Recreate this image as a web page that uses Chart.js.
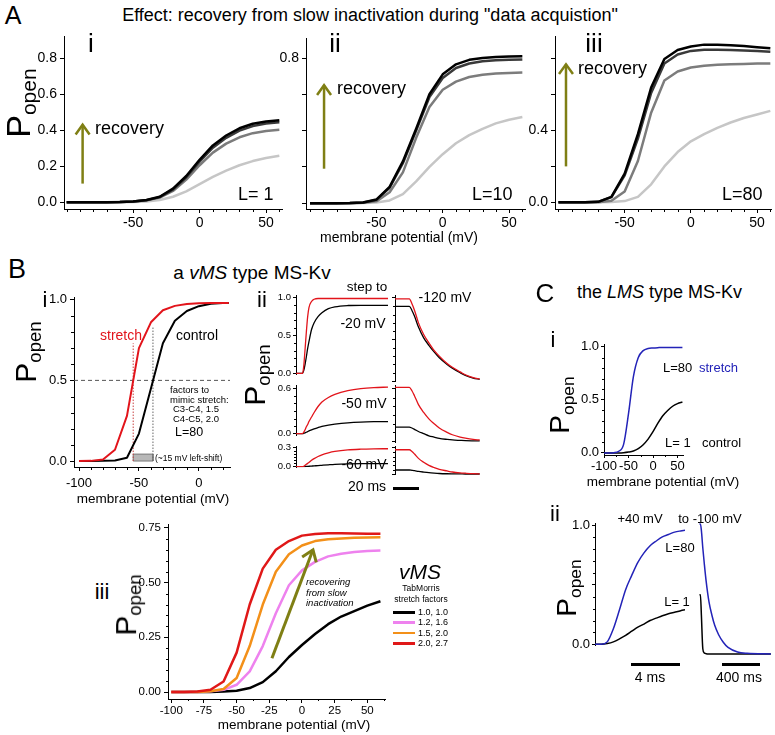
<!DOCTYPE html>
<html>
<head>
<meta charset="utf-8">
<script src="https://cdn.jsdelivr.net/npm/chart.js@4.4.1/dist/chart.umd.min.js"></script>
<style>
body { margin: 0; background: #fff; }
#fig { position: relative; width: 775px; height: 735px; overflow: hidden; font-family: "Liberation Sans", Arial, sans-serif; color: #000; }
#fig canvas { position: absolute; }
.t { position: absolute; white-space: nowrap; line-height: 1; transform: translate(-50%, -50%); }
.t sub { font-size: 0.62em; vertical-align: -0.28em; }
.bar { position: absolute; }
</style>
</head>
<body>
<div id="fig"></div>
<script>
// ---- panel A : recovery from slow inactivation (L = 1, 10, 80)
var mvA = [-100,-90,-80,-70,-60,-50,-40,-30,-20,-10,0,10,20,30,40,50,60];
var aiBlack = [0,0,0,0,0.001,0.004,0.012,0.03,0.075,0.145,0.235,0.315,0.37,0.41,0.435,0.448,0.455];
var aiDark  = [0,0,0,0,0.001,0.004,0.011,0.028,0.07,0.138,0.225,0.302,0.357,0.397,0.422,0.436,0.444];
var aiMid   = [0,0,0,0,0.001,0.003,0.01,0.025,0.062,0.125,0.205,0.275,0.325,0.36,0.383,0.395,0.402];
var aiLight = [0,0,0,0,0,0.001,0.004,0.012,0.03,0.06,0.1,0.14,0.175,0.205,0.228,0.245,0.258];
var aiiBlack = [0,0,0,0.001,0.004,0.02,0.09,0.23,0.41,0.6,0.71,0.765,0.79,0.8,0.805,0.808,0.81];
var aiiDark  = [0,0,0,0.001,0.004,0.018,0.085,0.22,0.4,0.585,0.69,0.745,0.77,0.782,0.788,0.79,0.792];
var aiiMid   = [0,0,0,0,0.002,0.01,0.06,0.17,0.36,0.53,0.625,0.67,0.695,0.708,0.715,0.718,0.72];
var aiiLight = [0,0,0,0,0.001,0.004,0.015,0.05,0.12,0.2,0.27,0.33,0.375,0.41,0.44,0.46,0.475];
var aiiiBlack = [0,0,0,0.002,0.03,0.16,0.38,0.64,0.8,0.85,0.87,0.88,0.88,0.877,0.872,0.866,0.86];
var aiiiDark  = [0,0,0,0.002,0.028,0.15,0.355,0.61,0.775,0.825,0.845,0.852,0.852,0.85,0.847,0.844,0.84];
var aiiiMid   = [0,0,0,0,0.008,0.06,0.23,0.5,0.68,0.73,0.752,0.762,0.767,0.77,0.772,0.774,0.775];
var aiiiLight = [0,0,0,0,0.001,0.006,0.03,0.1,0.2,0.28,0.34,0.38,0.415,0.445,0.47,0.49,0.51];

// ---- panel B i : stretch vs control (L=80)
var mvBi = [-100,-90,-80,-70,-60,-50,-40,-30,-20,-10,0,10,20,25];
var biStretch = [0,0.001,0.01,0.07,0.28,0.7,0.86,0.935,0.962,0.973,0.978,0.98,0.98,0.98];
var biControl = [0,0,0.001,0.003,0.02,0.17,0.45,0.73,0.87,0.93,0.96,0.975,0.98,0.98];
var biHalfX = [-104.2, 26];
var biHalfY = 0.5;
var biShiftX = [-54.8, -38.3];   // V1/2 of stretch and control
var biShiftTop = [0.73, 0.83];   // top of the dotted markers
var biShiftBar = 0.043;

// ---- panel B ii : step to -20/-50/-60 mV, then to -120 mV (ms)
var tStep = [0,5,6,7,8,9,10,12,14,17,20,25,30,40,50,60,71];
var step20Red   = [0,0,0.1,0.32,0.55,0.75,0.87,0.95,0.98,0.99,0.99,0.99,0.99,0.99,0.99,0.99,0.99];
var step20Black = [0,0,0.04,0.12,0.22,0.33,0.42,0.58,0.67,0.75,0.8,0.855,0.88,0.897,0.9,0.9,0.9];
var step50Red   = [0,0,0.02,0.05,0.09,0.12,0.16,0.22,0.28,0.36,0.42,0.48,0.52,0.57,0.598,0.612,0.618];
var step50Black = [0,0,0.003,0.01,0.018,0.026,0.035,0.05,0.063,0.08,0.095,0.112,0.125,0.143,0.153,0.158,0.16];
var step60Red   = [0,0,0.005,0.02,0.035,0.05,0.065,0.1,0.125,0.158,0.185,0.215,0.237,0.262,0.273,0.278,0.28];
var step60Black = [0,0,0,0.001,0.002,0.003,0.005,0.008,0.011,0.015,0.02,0.028,0.035,0.042,0.045,0.046,0.046];
var tTail = [0,11,13,15,18,22,26,30,34,40,44,50,54,60,65];
var tail20Red   = [0.99,0.99,0.93,0.85,0.7,0.56,0.46,0.37,0.3,0.21,0.165,0.11,0.075,0.04,0.025];
var tail20Black = [0.9,0.9,0.85,0.78,0.65,0.52,0.43,0.35,0.28,0.2,0.155,0.1,0.068,0.035,0.02];
var tail50Red   = [0.618,0.618,0.58,0.52,0.42,0.33,0.255,0.2,0.15,0.1,0.072,0.045,0.032,0.018,0.012];
var tail50Black = [0.16,0.16,0.15,0.135,0.11,0.085,0.06,0.045,0.03,0.018,0.012,0.007,0.004,0.002,0.001];
var tail60Red   = [0.28,0.28,0.26,0.23,0.18,0.135,0.1,0.075,0.054,0.035,0.023,0.013,0.009,0.004,0.002];
var tail60Black = [0.046,0.046,0.042,0.038,0.03,0.022,0.015,0.01,0.006,0.003,0.002,0.001,0,0,0];

// ---- panel B iii : TabMorris stretch factors
var biii10 = [0,0,0,0,0.002,0.006,0.018,0.045,0.095,0.16,0.215,0.265,0.31,0.345,0.37,0.395,0.415];
var biii16 = [0,0,0,0.003,0.01,0.033,0.094,0.21,0.36,0.488,0.556,0.595,0.62,0.632,0.64,0.645,0.647];
var biii20 = [0,0,0,0.003,0.014,0.064,0.21,0.4,0.55,0.63,0.67,0.69,0.698,0.702,0.705,0.706,0.707];
var biii27 = [0,0,0.002,0.01,0.048,0.18,0.4,0.564,0.65,0.69,0.715,0.722,0.726,0.726,0.725,0.724,0.723];
var biiiFactors = ['1.0, 1.0', '1.2, 1.6', '1.5, 2.0', '2.0, 2.7'];

// ---- panel C : LMS type
var ciStretch = [0,0,0.002,0.015,0.08,0.37,0.72,0.9,0.965,0.985,0.99,0.993,0.995,0.995,0.995,0.995,0.995];
var ciControl = [0,0,0,0,0.002,0.008,0.018,0.04,0.077,0.13,0.2,0.28,0.35,0.4,0.44,0.465,0.48];
var tOn = [0,0.5,1,1.5,2,2.5,3,3.5,4,4.5,5,5.5,6,6.5,7,7.35];
var ciiOn80 = [0,0,0.02,0.13,0.29,0.46,0.58,0.69,0.77,0.83,0.87,0.905,0.925,0.945,0.955,0.96];
var ciiOn1  = [0,0,0.006,0.02,0.045,0.075,0.11,0.145,0.17,0.2,0.22,0.24,0.257,0.27,0.283,0.29];
var tOff = [0,10,20,35,50,70,100,130,160,200,250,300,400,500,750];
var ciiOff80 = [1,1,0.95,0.815,0.7,0.56,0.4,0.3,0.22,0.15,0.09,0.05,0.015,0.005,0];
var ciiOff1  = [0.456,0.456,0.3,0.04,0.008,0.002,0,0,0,0,0,0,0,0,0];

// ---- ticks
var mvTicksA = [-50, 0, 50];
var mvLabelsA = ['-50', '0', '50'];
var mvMinorA = [-100,-90,-80,-70,-60,-40,-30,-20,-10,10,20,30,40,60];
var pTicksA = [0, 0.2, 0.4, 0.6, 0.8];
var pLabelsAi = ['0.0', '0.2', '0.4', '0.6', '0.8'];
var pLabelsAii = ['', '', '', '', '0.8'];
var pLabelsAiii = ['0.0', '', '0.4', '', ''];
var mvTicksBi = [-100, -50, 0];
var mvLabelsBi = ['-100', '-50', '0'];
var mvMinorBi = [-90,-80,-70,-60,-40,-30,-20,-10,10,20];
var pTicksHalf = [0, 0.5, 1];
var pLabelsHalf = ['0.0', '0.5', '1.0'];
var pMinorTenths = [0.1,0.2,0.3,0.4,0.6,0.7,0.8,0.9];
var pTicks06 = [0, 0.6];
var pLabels06 = ['0.0', '0.6'];
var pMinor06 = [0.1,0.2,0.3,0.4,0.5];
var pTicks03 = [0, 0.3];
var pLabels03 = ['0.0', '0.3'];
var pMinor03 = [0.05,0.1,0.15,0.2,0.25];
var mvTicksBiii = [-100,-75,-50,-25,0,25,50];
var mvLabelsBiii = ['-100','-75','-50','-25','0','25','50'];
var mvMinorBiii = [-87.5,-62.5,-37.5,-12.5,12.5,37.5,62.5];
var pTicksBiii = [0, 0.25, 0.5, 0.75];
var pLabelsBiii = ['0.00', '0.25', '0.50', '0.75'];
var pMinorBiii = [0.05,0.1,0.15,0.2,0.3,0.35,0.4,0.45,0.55,0.6,0.65,0.7];
var mvTicksC = [-100, -50, 0, 50];
var mvLabelsC = ['-100', '-50', '0', '50'];
var mvMinorC = [-75, -25, 25];
var pLabelsCii = ['0.0', '', '1.0'];

var RED = '#e2141b', BLUE = '#2323b8', OLIVE = '#7f7f14';
var fig = document.getElementById('fig');
Chart.defaults.font.family = '"Liberation Sans", Arial, sans-serif';
Chart.defaults.color = '#000';

function series(xs, ys, color, width, extra) {
  var d = {
    data: xs.map(function (x, i) { return { x: x, y: ys[i] }; }),
    borderColor: color, backgroundColor: color, borderWidth: width,
    pointRadius: 0, tension: 0, fill: false, borderJoinStyle: 'round'
  };
  return Object.assign(d, extra || {});
}

//short minor ticks, drawn with the chart's own scales
function minorPlugin(spec) {
  return {
    id: 'minorTicks',
    afterDraw: function (chart) {
      var ctx = chart.ctx;
      ctx.save();
      ctx.strokeStyle = '#000';
      ctx.lineWidth = 1;
      (spec.x || []).forEach(function (v) {
        var s = chart.scales.x, p = Math.round(s.getPixelForValue(v)) + 0.5;
        ctx.beginPath(); ctx.moveTo(p, s.top); ctx.lineTo(p, s.top + (spec.len || 3)); ctx.stroke();
      });
      (spec.y || []).forEach(function (v) {
        var s = chart.scales.y, p = Math.round(s.getPixelForValue(v)) + 0.5;
        ctx.beginPath(); ctx.moveTo(s.right, p); ctx.lineTo(s.right - (spec.len || 3), p); ctx.stroke();
      });
      ctx.restore();
    }
  };
}

function arrowPlugin(list) {
  return {
    id: 'arrows',
    afterDatasetsDraw: function (chart) {
      var ctx = chart.ctx, sx = chart.scales.x, sy = chart.scales.y;
      list.forEach(function (a) {
        var x0 = sx.getPixelForValue(a.from[0]), y0 = sy.getPixelForValue(a.from[1]);
        var x1 = sx.getPixelForValue(a.to[0]), y1 = sy.getPixelForValue(a.to[1]);
        var ang = Math.atan2(y1 - y0, x1 - x0), h = a.head;
        ctx.save();
        ctx.strokeStyle = a.color;
        ctx.lineWidth = a.width;
        ctx.beginPath(); ctx.moveTo(x0, y0); ctx.lineTo(x1, y1); ctx.stroke();
        ctx.beginPath();
        ctx.moveTo(x1 - h * Math.cos(ang - 0.62), y1 - h * Math.sin(ang - 0.62));
        ctx.lineTo(x1, y1);
        ctx.lineTo(x1 - h * Math.cos(ang + 0.62), y1 - h * Math.sin(ang + 0.62));
        ctx.stroke();
        ctx.restore();
      });
    }
  };
}

function axis(pos, range, ticks, labels, o) {
  o = o || {};
  return {
    type: 'linear', position: pos, min: range[0], max: range[1],
    display: o.show !== false,
    afterBuildTicks: function (ax) { ax.ticks = (ticks || []).map(function (v) { return { value: v }; }); },
    afterFit: function (ax) {
      var s = o.show === false ? 0 : o.size;   // hidden axes take no room
      if (pos === 'left') ax.width = s; else ax.height = s;
    },
    border: { display: true, color: '#000', width: 1 },
    grid: { drawOnChartArea: false, drawTicks: true, tickLength: o.tick || 4, color: '#000', lineWidth: 1 },
    ticks: {
      display: !!labels, autoSkip: false, maxRotation: 0, minRotation: 0,
      padding: o.pad == null ? 3 : o.pad, color: '#000', font: { size: o.font || 13 },
      callback: function (v, i) { return labels ? labels[i] : ''; }
    }
  };
}

// box = plot area (l,t,w,h) + gutters for the axes (gl left, gb bottom)
function plot(box, datasets, xAx, yAx, minor, arrows) {
  var pt = 8, pr = 10;
  var W = box.w + box.gl + pr, H = box.h + pt + box.gb;
  var c = document.createElement('canvas');
  c.width = W; c.height = H;
  c.style.left = (box.l - box.gl) + 'px';
  c.style.top = (box.t - pt) + 'px';
  c.style.width = W + 'px';
  c.style.height = H + 'px';
  fig.appendChild(c);
  return new Chart(c, {
    type: 'line',
    data: { datasets: datasets },
    options: {
      responsive: false, animation: false, events: [],
      layout: { padding: { top: pt, right: pr, left: 0, bottom: 0 } },
      plugins: { legend: { display: false }, tooltip: { enabled: false } },
      scales: { x: xAx, y: yAx }
    },
    plugins: [minorPlugin(minor || {}), arrowPlugin(arrows || [])]
  });
}

function txt(html, x, y, size, o) {
  o = o || {};
  var d = document.createElement('div');
  d.className = 't';
  d.innerHTML = html;
  d.style.left = x + 'px';
  d.style.top = y + 'px';
  d.style.fontSize = size + 'px';
  if (o.color) d.style.color = o.color;
  if (o.italic) d.style.fontStyle = 'italic';
  if (o.left) d.style.transform = 'translate(0, -50%)';
  if (o.rot) d.style.transform = 'translate(-50%, -50%) rotate(-90deg)';
  fig.appendChild(d);
}

function bar(x, y, w, h, color) {
  var d = document.createElement('div');
  d.className = 'bar';
  d.style.left = x + 'px'; d.style.top = y + 'px';
  d.style.width = w + 'px'; d.style.height = h + 'px';
  d.style.background = color || '#000';
  fig.appendChild(d);
}

function popen(x, y, size) { txt('P<sub>open</sub>', x, y, size, { rot: true }); }

// ================= A =================
var GREYS = ['#000000', '#3a3a3a', '#7c7c7c', '#c6c6c6'];
function aSets(b, d, m, l) {
  return [series(mvA, b, GREYS[0], 2.5), series(mvA, d, GREYS[1], 2.5),
          series(mvA, m, GREYS[2], 2.5), series(mvA, l, GREYS[3], 2.5)];
}
var aX = { size: 30, tick: 4, pad: 2, font: 14 };
var aY = { size: 40, tick: 4, pad: 3, font: 14 };
plot({ l: 64, t: 33, w: 218, h: 176, gl: 40, gb: 30 }, aSets(aiBlack, aiDark, aiMid, aiLight),
  axis('bottom', [-102, 62], mvTicksA, mvLabelsA, aX), axis('left', [-0.038, 0.92], pTicksA, pLabelsAi, aY),
  { x: mvMinorA }, [{ from: [-88, 0.103], to: [-88, 0.43], color: OLIVE, width: 2.5, head: 12 }]);
plot({ l: 306, t: 35, w: 219, h: 174, gl: 40, gb: 30 }, aSets(aiiBlack, aiiDark, aiiMid, aiiLight),
  axis('bottom', [-103, 62], mvTicksA, mvLabelsA, aX), axis('left', [-0.032, 0.908], pTicksA, pLabelsAii, aY),
  { x: mvMinorA }, [{ from: [-89.4, 0.19], to: [-89.4, 0.65], color: OLIVE, width: 2.5, head: 12 }]);
plot({ l: 555, t: 33, w: 216, h: 176, gl: 40, gb: 30 }, aSets(aiiiBlack, aiiiDark, aiiiMid, aiiiLight),
  axis('bottom', [-102.6, 60.5], mvTicksA, mvLabelsA, aX), axis('left', [-0.038, 0.926], pTicksA, pLabelsAiii, aY),
  { x: mvMinorA }, [{ from: [-94.3, 0.2], to: [-94.3, 0.77], color: OLIVE, width: 2.5, head: 12 }]);

txt('A', 13, 15, 25);
txt('Effect: recovery from slow inactivation during "data acquistion"', 370, 15, 18);
txt('i', 91, 43, 26); txt('ii', 335, 43, 26); txt('iii', 594, 43, 26);
popen(20, 103, 34);
txt('recovery', 95, 128, 18, { left: true });
txt('recovery', 337, 88, 18, { left: true });
txt('recovery', 578, 68, 18, { left: true });
txt('L= 1', 238, 194, 18, { left: true });
txt('L=10', 472, 194, 18, { left: true });
txt('L=80', 722, 194, 18, { left: true });
txt('membrane potential (mV)', 399, 237, 14);

// ================= B i =================
plot({ l: 74, t: 295, w: 156, h: 172, gl: 34, gb: 26 }, [
    series(mvBi, biStretch, RED, 2),
    series(mvBi, biControl, '#000', 2),
    series(biHalfX, [biHalfY, biHalfY], '#555', 1, { borderDash: [4, 3] }),
    series([biShiftX[0], biShiftX[0]], [0, biShiftTop[0]], '#c84040', 1, { borderDash: [1.5, 1.5] }),
    series([biShiftX[1], biShiftX[1]], [0, biShiftTop[1]], '#666', 1, { borderDash: [1.5, 1.5] }),
    series([biShiftX[0], biShiftX[0], biShiftX[1], biShiftX[1], biShiftX[0]], [0, biShiftBar, biShiftBar, 0, 0], '#7a7a7a', 1,
      { fill: 'shape', backgroundColor: '#b8b8b8' })
  ],
  axis('bottom', [-104.2, 26], mvTicksBi, mvLabelsBi, { size: 26, tick: 4, pad: 5, font: 13 }),
  axis('left', [-0.037, 1.012], pTicksHalf, pLabelsHalf, { size: 34, tick: 4, pad: 3, font: 13 }),
  { x: mvMinorBi, y: pMinorTenths });

txt('B', 17, 269, 27);
txt('a <i>vMS</i> type MS-Kv', 252, 272, 19);
txt('i', 45, 300, 22);
popen(28, 352, 30);
txt('stretch', 121, 335, 14, { color: RED });
txt('control', 197, 335, 14);
txt('factors to', 170, 390, 9.5, { left: true });
txt('mimic stretch:', 170, 399.5, 9.5, { left: true });
txt('C3-C4, 1.5', 173, 409, 9.5, { left: true });
txt('C4-C5, 2.0', 173, 418.5, 9.5, { left: true });
txt('L=80', 175, 432, 12.5, { left: true });
txt('(~15 mV left-shift)', 155, 458, 8.5, { left: true });
txt('membrane potential (mV)', 153, 499, 13.5);

// ================= B ii =================
var hideX = { show: false };
var rowY = [
  { t: 295, h: 87, r: [-0.012, 1.036], ticks: pTicksHalf, labels: pLabelsHalf, minor: pMinorTenths },
  { t: 385, h: 58, r: [-0.023, 0.646], ticks: pTicks06, labels: pLabels06, minor: pMinor06 },
  { t: 446, h: 29, r: [-0.0115, 0.323], ticks: pTicks03, labels: pLabels03, minor: pMinor03 }
];
var stepSets = [[step20Red, step20Black], [step50Red, step50Black], [step60Red, step60Black]];
var tailSets = [[tail20Red, tail20Black], [tail50Red, tail50Black], [tail60Red, tail60Black]];
rowY.forEach(function (row, i) {
  plot({ l: 296, t: row.t, w: 92, h: row.h, gl: 22, gb: 0 }, [
      series(tStep, stepSets[i][0], RED, 1.3, { cubicInterpolationMode: 'monotone' }),
      series(tStep, stepSets[i][1], '#000', 1.3, { cubicInterpolationMode: 'monotone' })
    ],
    axis('bottom', [0, 71], [], null, hideX),
    axis('left', row.r, row.ticks, row.labels, { size: 22, tick: 3, pad: 2, font: 9.5 }),
    { y: row.minor, len: 2 });
  plot({ l: 395, t: row.t, w: 86, h: row.h, gl: 4, gb: 0 }, [
      series(tTail, tailSets[i][0], RED, 1.3, { cubicInterpolationMode: 'monotone' }),
      series(tTail, tailSets[i][1], '#000', 1.3, { cubicInterpolationMode: 'monotone' })
    ],
    axis('bottom', [0, 66], [], null, hideX),
    axis('left', row.r, row.ticks, null, { size: 4, tick: 3 }),
    { y: row.minor, len: 2 });
});
txt('ii', 262, 300, 22);
popen(257, 375, 30);
txt('step to', 367, 287, 13.5);
txt('-120 mV', 445, 297, 14);
txt('-20 mV', 363, 323, 14);
txt('-50 mV', 364, 403, 14);
txt('-60 mV', 364, 464, 14);
txt('20 ms', 367, 486, 14);
bar(393, 487, 26, 3);

// ================= B iii =================
var biiiColors = ['#000000', '#ee82ee', '#f39019', '#e01818'];
plot({ l: 168, t: 523, w: 217, h: 176, gl: 34, gb: 24 }, [
    series(mvA, biii27, biiiColors[3], 2.5),
    series(mvA, biii20, biiiColors[2], 2.5),
    series(mvA, biii16, biiiColors[1], 2.5),
    series(mvA, biii10, biiiColors[0], 2.5)
  ],
  axis('bottom', [-102.5, 63.5], mvTicksBiii, mvLabelsBiii, { size: 24, tick: 4, pad: 1, font: 11.5 }),
  axis('left', [-0.032, 0.764], pTicksBiii, pLabelsBiii, { size: 34, tick: 4, pad: 3, font: 11.5 }),
  { x: mvMinorBiii, y: pMinorBiii, len: 2 },
  [{ from: [-23, 0.154], to: [8.4, 0.65], color: OLIVE, width: 3, head: 13 }]);
txt('iii', 102, 592, 22);
popen(128, 605, 30);
txt('recovering', 306, 582, 9.5, { italic: true, left: true });
txt('from slow', 306, 592.5, 9.5, { italic: true, left: true });
txt('inactivation', 306, 603, 9.5, { italic: true, left: true });
txt('<i>vMS</i>', 420, 571, 21);
txt('TabMorris', 421, 588, 8.5);
txt('stretch factors', 421, 599, 8.5);
biiiFactors.forEach(function (f, i) {
  var y = 612 + i * 10.4;
  bar(393, y - 1, 22, 2.5, biiiColors[i]);
  txt(f, 418, y, 9, { left: true });
});
txt('membrane potential (mV)', 294, 725, 13.5);

// ================= C =================
plot({ l: 604, t: 343, w: 79, h: 112, gl: 30, gb: 22 }, [
    series(mvA, ciStretch, BLUE, 1.5, { cubicInterpolationMode: 'monotone' }),
    series(mvA, ciControl, '#000', 1.5, { cubicInterpolationMode: 'monotone' })
  ],
  axis('bottom', [-100, 61.2], mvTicksC, mvLabelsC, { size: 22, tick: 3, pad: 1, font: 13 }),
  axis('left', [-0.02, 1.02], pTicksHalf, pLabelsHalf, { size: 30, tick: 3, pad: 2, font: 13 }),
  { x: mvMinorC, y: pMinorTenths, len: 2 });
plot({ l: 595, t: 522, w: 90, h: 133, gl: 30, gb: 0 }, [
    series(tOn, ciiOn80, BLUE, 1.5, { cubicInterpolationMode: 'monotone' }),
    series(tOn, ciiOn1, '#000', 1.5, { cubicInterpolationMode: 'monotone' })
  ],
  axis('bottom', [0, 7.35], [], null, hideX),
  axis('left', [-0.008, 1.015], pTicksHalf, pLabelsCii, { size: 30, tick: 3, pad: 2, font: 13 }),
  { y: pMinorTenths, len: 2 });
plot({ l: 699, t: 522, w: 73, h: 133, gl: 0, gb: 0 }, [
    series(tOff, ciiOff80, BLUE, 1.5, { cubicInterpolationMode: 'monotone' }),
    series(tOff, ciiOff1, '#000', 1.5, { cubicInterpolationMode: 'monotone' })
  ],
  axis('bottom', [-5, 762], [], null, hideX),
  axis('left', [-0.008, 1.015], [], null, hideX));

txt('C', 545, 293, 26);
txt('the <i>LMS</i> type MS-Kv', 577, 292, 18, { left: true });
txt('i', 553, 340, 22);
popen(562, 405, 28);
txt('L=80', 663, 367, 13, { left: true });
txt('stretch', 699, 367, 13, { left: true, color: BLUE });
txt('L= 1', 665, 442, 13, { left: true });
txt('control', 702, 442, 13, { left: true });
txt('membrane potential (mV)', 663, 482, 13.5);
txt('ii', 555, 514, 22);
popen(569, 588, 28);
txt('+40 mV', 640, 518, 13);
txt('to -100 mV', 710, 518, 13);
txt('L=80', 680, 547, 13);
txt('L= 1', 677, 601, 13);
bar(631, 663, 49, 3);
txt('4 ms', 650, 677, 14);
bar(722, 663, 38, 3);
txt('400 ms', 739, 677, 14);
</script>
</body>
</html>
